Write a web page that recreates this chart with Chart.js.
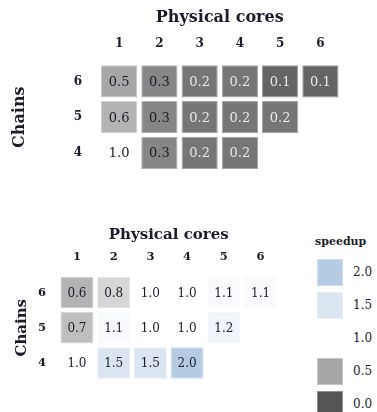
<!DOCTYPE html>
<html>
<head>
<meta charset="utf-8">
<script src="https://cdn.jsdelivr.net/npm/chart.js@4/dist/chart.umd.min.js"></script>
<style>
  html, body { margin: 0; padding: 0; background: #ffffff; }
  body { width: 377px; height: 412px; position: relative; overflow: hidden; }
  #topWrap { position: absolute; left: 0; top: 0; width: 377px; height: 195px; }
  #bottomWrap { position: absolute; left: 0; top: 212px; width: 300px; height: 200px; }
  #legend { position: absolute; left: 300px; top: 212px; width: 77px; height: 200px; font-family: 'DejaVu Serif', serif; color: #1c1c2a; }
  #legend .title { position: absolute; left: 15px; top: 23px; font-size: 11px; font-weight: bold; line-height: 14px; }
  #legend .swatch { position: absolute; left: 17px; width: 26px; height: 27px; box-sizing: border-box; }
  #legend .lab { position: absolute; left: 53px; font-size: 12px; line-height: 27px; }
</style>
</head>
<body>
<div id="topWrap"><canvas id="topChart"></canvas></div>
<div id="bottomWrap"><canvas id="bottomChart"></canvas></div>
<div id="legend"></div>
<script>
// Columns: number of physical cores; rows: number of chains
const coreLabels = ['1', '2', '3', '4', '5', '6'];
const chainRows = [6, 5, 4];

// Upper grid values, one array per chain count
const upper6 = [0.5, 0.3, 0.2, 0.2, 0.1, 0.1];
const upper5 = [0.6, 0.3, 0.2, 0.2, 0.2];
const upper4 = [1.0, 0.3, 0.2, 0.2];

// Lower grid: speedup, one array per chain count
const speedup6 = [0.6, 0.8, 1.0, 1.0, 1.1, 1.1];
const speedup5 = [0.7, 1.1, 1.0, 1.0, 1.2];
const speedup4 = [1.0, 1.5, 1.5, 2.0];

// Colour key entries
const legendTitle = 'speedup';
const legendValues = [2.0, 1.5, 1.0, 0.5, 0.0];

const FONT = "'DejaVu Serif', serif";

// Grey ramp below 1 (value -> grey level), white at 1, blue above 1
const greyStops = [[0, 85], [0.5, 167], [0.7, 190], [0.8, 214], [1, 255]];
function greyLevel(v) {
  v = Math.max(0, Math.min(1, v));
  for (let i = 1; i < greyStops.length; i++) {
    const [v0, g0] = greyStops[i - 1];
    const [v1, g1] = greyStops[i];
    if (v <= v1) return g0 + (g1 - g0) * (v - v0) / (v1 - v0);
  }
  return 255;
}
function rgbFor(v) {
  if (v <= 1) {
    const g = Math.round(greyLevel(v));
    return [g, g, g];
  }
  const t = Math.min(v - 1, 1);
  return [
    Math.round(255 - 75 * t),
    Math.round(255 - 52 * t),
    Math.round(255 - 29 * t)
  ];
}
function fillFor(v) {
  const c = rgbFor(v);
  return `rgb(${c[0]},${c[1]},${c[2]})`;
}
function edgeFor(v) {
  const c = rgbFor(v).map(x => Math.round(x + (255 - x) * 0.35));
  return `rgb(${c[0]},${c[1]},${c[2]})`;
}
function textFor(v) {
  return rgbFor(v)[0] < 128 ? '#e6e8ee' : '#1c1c2a';
}

function makeDatasets(rowArrays) {
  return rowArrays.map((vals, r) => {
    const row = chainRows[r];
    return {
      label: 'Chains ' + row,
      data: vals.map((v, i) => ({ x: coreLabels[i], y: [row - 0.45, row + 0.45], v: v })),
      backgroundColor: vals.map(fillFor),
      borderColor: vals.map(edgeFor),
      borderWidth: 1,
      borderSkipped: false,
      grouped: false,
      categoryPercentage: 1.0,
      barPercentage: 0.9
    };
  });
}

// Writes each cell's value at the centre of its bar
const cellText = {
  id: 'cellText',
  afterDatasetsDraw(chart, args, opts) {
    const ctx = chart.ctx;
    ctx.save();
    ctx.font = opts.size + 'px ' + FONT;
    ctx.textAlign = 'center';
    ctx.textBaseline = 'middle';
    chart.data.datasets.forEach((ds, di) => {
      const meta = chart.getDatasetMeta(di);
      meta.data.forEach((el, i) => {
        const v = ds.data[i].v;
        ctx.fillStyle = textFor(v);
        ctx.fillText(v.toFixed(1), el.x, (el.y + el.base) / 2 + 1);
      });
    });
    ctx.restore();
  }
};

function makeChart(id, rowArrays, g) {
  return new Chart(document.getElementById(id), {
    type: 'bar',
    data: { labels: coreLabels, datasets: makeDatasets(rowArrays) },
    plugins: [cellText],
    options: {
      responsive: true,
      maintainAspectRatio: false,
      animation: false,
      events: [],
      layout: { padding: { left: 0, top: 0, right: g.padRight, bottom: g.padBottom } },
      plugins: {
        legend: { display: false },
        tooltip: { enabled: false },
        cellText: { size: g.cellFont }
      },
      scales: {
        x: {
          type: 'category',
          position: 'top',
          offset: true,
          grid: { display: false, drawTicks: false, tickLength: 0 },
          border: { display: false },
          ticks: {
            padding: g.xTickPad,
            color: '#1c1c2a',
            font: { family: FONT, size: g.tickFont, weight: 'bold' }
          },
          title: {
            display: true,
            text: 'Physical cores',
            color: '#1c1c2a',
            padding: { top: g.xTitlePad, bottom: 0 },
            font: { family: FONT, size: g.titleFont, weight: 'bold' }
          },
          afterFit(s) { s.height = g.xHeight; }
        },
        y: {
          type: 'linear',
          min: 3.5,
          max: 6.5,
          afterBuildTicks(s) { s.ticks = chainRows.map(r => ({ value: r })); },
          grid: { display: false, drawTicks: false, tickLength: 0 },
          border: { display: false },
          ticks: {
            padding: g.yTickPad,
            color: '#1c1c2a',
            font: { family: FONT, size: g.tickFont, weight: 'bold' },
            callback: v => String(v)
          },
          title: {
            display: true,
            text: 'Chains',
            color: '#1c1c2a',
            padding: { top: g.yTitlePad, bottom: 0 },
            font: { family: FONT, size: g.titleFont, weight: 'bold' }
          },
          afterFit(s) { s.width = g.yWidth; }
        }
      }
    }
  });
}

makeChart('topChart', [upper6, upper5, upper4], {
  padRight: 36.5, padBottom: 15.5, xHeight: 63.5, yWidth: 99,
  xTickPad: 12.5, yTickPad: 17, xTitlePad: 8.4, yTitlePad: 10.4,
  tickFont: 12, titleFont: 16, cellFont: 13
});

makeChart('bottomChart', [speedup6, speedup5, speedup4], {
  padRight: 21.1, padBottom: 31.4, xHeight: 62.9, yWidth: 58.6,
  xTickPad: 11, yTickPad: 12.5, xTitlePad: 14, yTitlePad: 13,
  tickFont: 11.5, titleFont: 15, cellFont: 12
});

// Colour key beside the lower grid
const legendEl = document.getElementById('legend');
const t = document.createElement('div');
t.className = 'title';
t.textContent = legendTitle;
legendEl.appendChild(t);
legendValues.forEach((v, i) => {
  const top = 47 + i * 33;
  const sw = document.createElement('div');
  sw.className = 'swatch';
  sw.style.top = top + 'px';
  sw.style.background = fillFor(v);
  sw.style.border = '1px solid ' + edgeFor(v);
  legendEl.appendChild(sw);
  const lab = document.createElement('div');
  lab.className = 'lab';
  lab.style.top = top + 'px';
  lab.textContent = v.toFixed(1);
  legendEl.appendChild(lab);
});
</script>
</body>
</html>
